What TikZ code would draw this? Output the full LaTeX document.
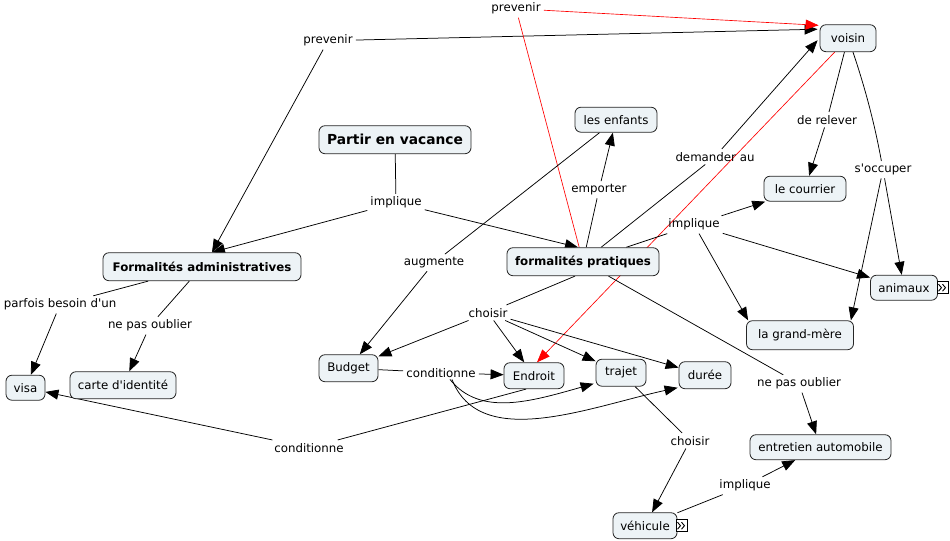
\documentclass[tikz,border=0pt]{standalone}
\usepackage{fontspec}
\setmainfont{DejaVu Sans}
\usetikzlibrary{arrows.meta,calc}
\definecolor{cfill}{RGB}{237,243,246}
\pgfdeclarelayer{back}
\pgfdeclarelayer{bg}
\pgfsetlayers{back,bg,main}
\newcommand{\apos}{\textquotesingle}
\begin{document}
\begin{tikzpicture}[x=1pt,y=-1pt,
  concept/.style={draw=black!85, fill=cfill, rounded corners=6pt, line width=0.8pt, inner sep=0pt, font=\fontsize{11.8}{14}\selectfont},
  bconcept/.style={concept, font=\fontsize{11.8}{14}\selectfont\bfseries},
  lab/.style={inner xsep=3pt, inner ysep=3pt, font=\fontsize{11.8}{14}\selectfont},
  con/.style={line width=0.75pt, black},
  arr/.style={con, -{Triangle[length=13pt,width=10pt]}},
  rcon/.style={line width=0.65pt, red},
  rarr/.style={rcon, -{Triangle[length=13pt,width=10pt]}},
  icon/.style={draw, fill=white, minimum width=11pt, minimum height=12pt, inner sep=0pt, line width=0.6pt},
]
\begin{pgfonlayer}{back}
\useasboundingbox[fill=white] (0,0) rectangle (950,539);
\end{pgfonlayer}

% concepts
\node[bconcept, font=\fontsize{13.8}{16}\selectfont\bfseries, minimum width=152pt, minimum height=28pt] (partir) at (395,138) {Partir en vacance};
\node[bconcept, minimum width=198pt, minimum height=28pt] (FA) at (202,265) {Formalités administratives};
\node[bconcept, minimum width=152pt, minimum height=28pt] (FP) at (583,260) {formalités pratiques};
\node[concept, minimum width=56pt, minimum height=27pt] (voisin) at (848,36.5) {voisin};
\node[concept, minimum width=82pt, minimum height=25pt] (enfants) at (616,118) {les enfants};
\node[concept, minimum width=82pt, minimum height=25pt] (courrier) at (805,187) {le courrier};
\node[concept, minimum width=67pt, minimum height=25pt] (animaux) at (904,286) {animaux};
\node[concept, minimum width=107pt, minimum height=29pt] (gm) at (800,333.5) {la grand-mère};
\node[concept, minimum width=59pt, minimum height=27pt] (budget) at (348.5,366.5) {Budget};
\node[concept, minimum width=60pt, minimum height=26pt] (endroit) at (534,374) {Endroit};
\node[concept, minimum width=50pt, minimum height=27pt] (trajet) at (621,371) {trajet};
\node[concept, minimum width=52pt, minimum height=27pt] (duree) at (705,373.5) {durée};
\node[concept, minimum width=39pt, minimum height=25pt] (visa) at (25.5,386) {visa};
\node[concept, minimum width=106pt, minimum height=27pt] (carte) at (123,383.5) {carte d\apos identité};
\node[concept, minimum width=141pt, minimum height=25pt] (entretien) at (820.5,445.5) {entretien automobile};
\node[concept, minimum width=64pt, minimum height=26pt] (vehicule) at (645,524) {véhicule};

% expand icons
\node[icon] (ic1) at (942.5,286) {};
\node[icon] (ic2) at (681.5,524) {};
\foreach \ic in {ic1,ic2}{
  \draw[line width=0.9pt] ([shift={(-4,-3.5)}]\ic.center) -- ([shift={(-1,0)}]\ic.center) -- ([shift={(-4,3.5)}]\ic.center);
  \draw[line width=0.9pt] ([shift={(0,-3.5)}]\ic.center) -- ([shift={(3,0)}]\ic.center) -- ([shift={(0,3.5)}]\ic.center);
}

% linking phrases
\node[lab] (prev2) at (516,7) {prevenir};
\node[lab] (prev1) at (328,39) {prevenir};
\node[lab] (impl1) at (396,201) {implique};
\node[lab] (aug) at (434,261) {augmente};
\node[lab] (emp) at (599,188) {emporter};
\node[lab] (dem) at (715,155) {demander au};
\node[lab] (rel) at (827,118) {de relever};
\node[lab] (occ) at (883,168) {s\apos occuper};
\node[lab] (impl2) at (694,223) {implique};
\node[lab] (parf) at (60,303) {parfois besoin d\apos un};
\node[lab] (npo1) at (150,324) {ne pas oublier};
\node[lab] (cho1) at (488,311) {choisir};
\node[lab] (cond1) at (441,371) {conditionne};
\node[lab] (cond2) at (309,446) {conditionne};
\node[lab] (npo2) at (799,382) {ne pas oublier};
\node[lab] (cho2) at (690,439) {choisir};
\node[lab] (impl3) at (745,484) {implique};

\begin{pgfonlayer}{bg}
% partir
\draw[con] (partir) -- (impl1);
\draw[arr] (impl1) -- ($(FA.north)+(10,0)$);
\draw[arr] (impl1) -- ($(FP.north)+(-5,0)$);
% prevenir (left)
\draw[arr] (prev1) -- ($(FA.north)+(10,0)$);
\draw[arr] (prev1) -- ($(voisin.west)+(-2,-9)$);
% prevenir (top, red)
\draw[rcon] (FP) -- (prev2);
\draw[rarr] (prev2) -- ($(voisin.north west)+(-1,1)$);
% voisin -> Endroit (red)
\draw[rarr] (voisin) -- ($(endroit.north)+(3,0)$);
% emporter
\draw[con] (FP) -- (emp);
\draw[arr] (emp) -- (enfants);
% augmente
\draw[con] (enfants) -- (aug);
\draw[arr] (aug) -- (budget);
% demander au
\draw[con] (FP) -- (dem);
\draw[arr] (dem) -- ($(voisin.west)+(-2,2)$);
% de relever
\draw[con] (voisin) -- (rel);
\draw[arr] (rel) -- (courrier);
% s'occuper
\draw[con] ($(voisin.south)+(5,0)$) .. controls (868,95) and (876,130) .. (occ);
\draw[arr] (occ) -- (animaux);
\draw[arr] (occ) -- ($(gm.north east)+(-3,0)$);
% implique (right)
\draw[con] (FP) -- (impl2);
\draw[arr] (impl2) -- (courrier);
\draw[arr] (impl2) -- (animaux);
\draw[arr] (impl2) -- ($(gm.north west)+(2,0)$);
% parfois besoin d'un
\draw[con] (FA) -- (parf);
\draw[arr] (parf) -- (visa);
% ne pas oublier (left)
\draw[con] (FA) -- (npo1);
\draw[arr] (npo1) -- (carte);
% choisir (middle)
\draw[con] ($(FP.south)+(-8,0)$) -- (cho1);
\draw[arr] (cho1) -- (budget);
\draw[arr] (cho1) -- (endroit);
\draw[arr] (cho1) -- (trajet);
\draw[arr] (cho1) -- (duree);
% conditionne (middle)
\draw[con] (budget) -- (cond1);
\draw[arr] (cond1) -- (endroit);
\draw[arr] ($(cond1.south)+(9,-1)$) .. controls (480,415) and (530,400) .. ($(trajet.west)+(-2,11)$);
\draw[arr] ($(cond1.south)+(11,-1)$) .. controls (480,450) and (590,405) .. ($(duree.west)+(-1,12.5)$);
% conditionne (bottom)
\draw[con] ($(endroit.south)+(-8,0)$) -- (cond2);
\draw[arr] (cond2) -- (visa);
% ne pas oublier (right)
\draw[con] (FP) -- (npo2);
\draw[arr] (npo2) -- (entretien);
% choisir (bottom)
\draw[con] (trajet) -- (cho2);
\draw[arr] (cho2) -- (vehicule);
% implique (bottom)
\draw[con] (vehicule) -- (impl3);
\draw[arr] (impl3) -- (entretien);
\end{pgfonlayer}
\end{tikzpicture}
\end{document}
